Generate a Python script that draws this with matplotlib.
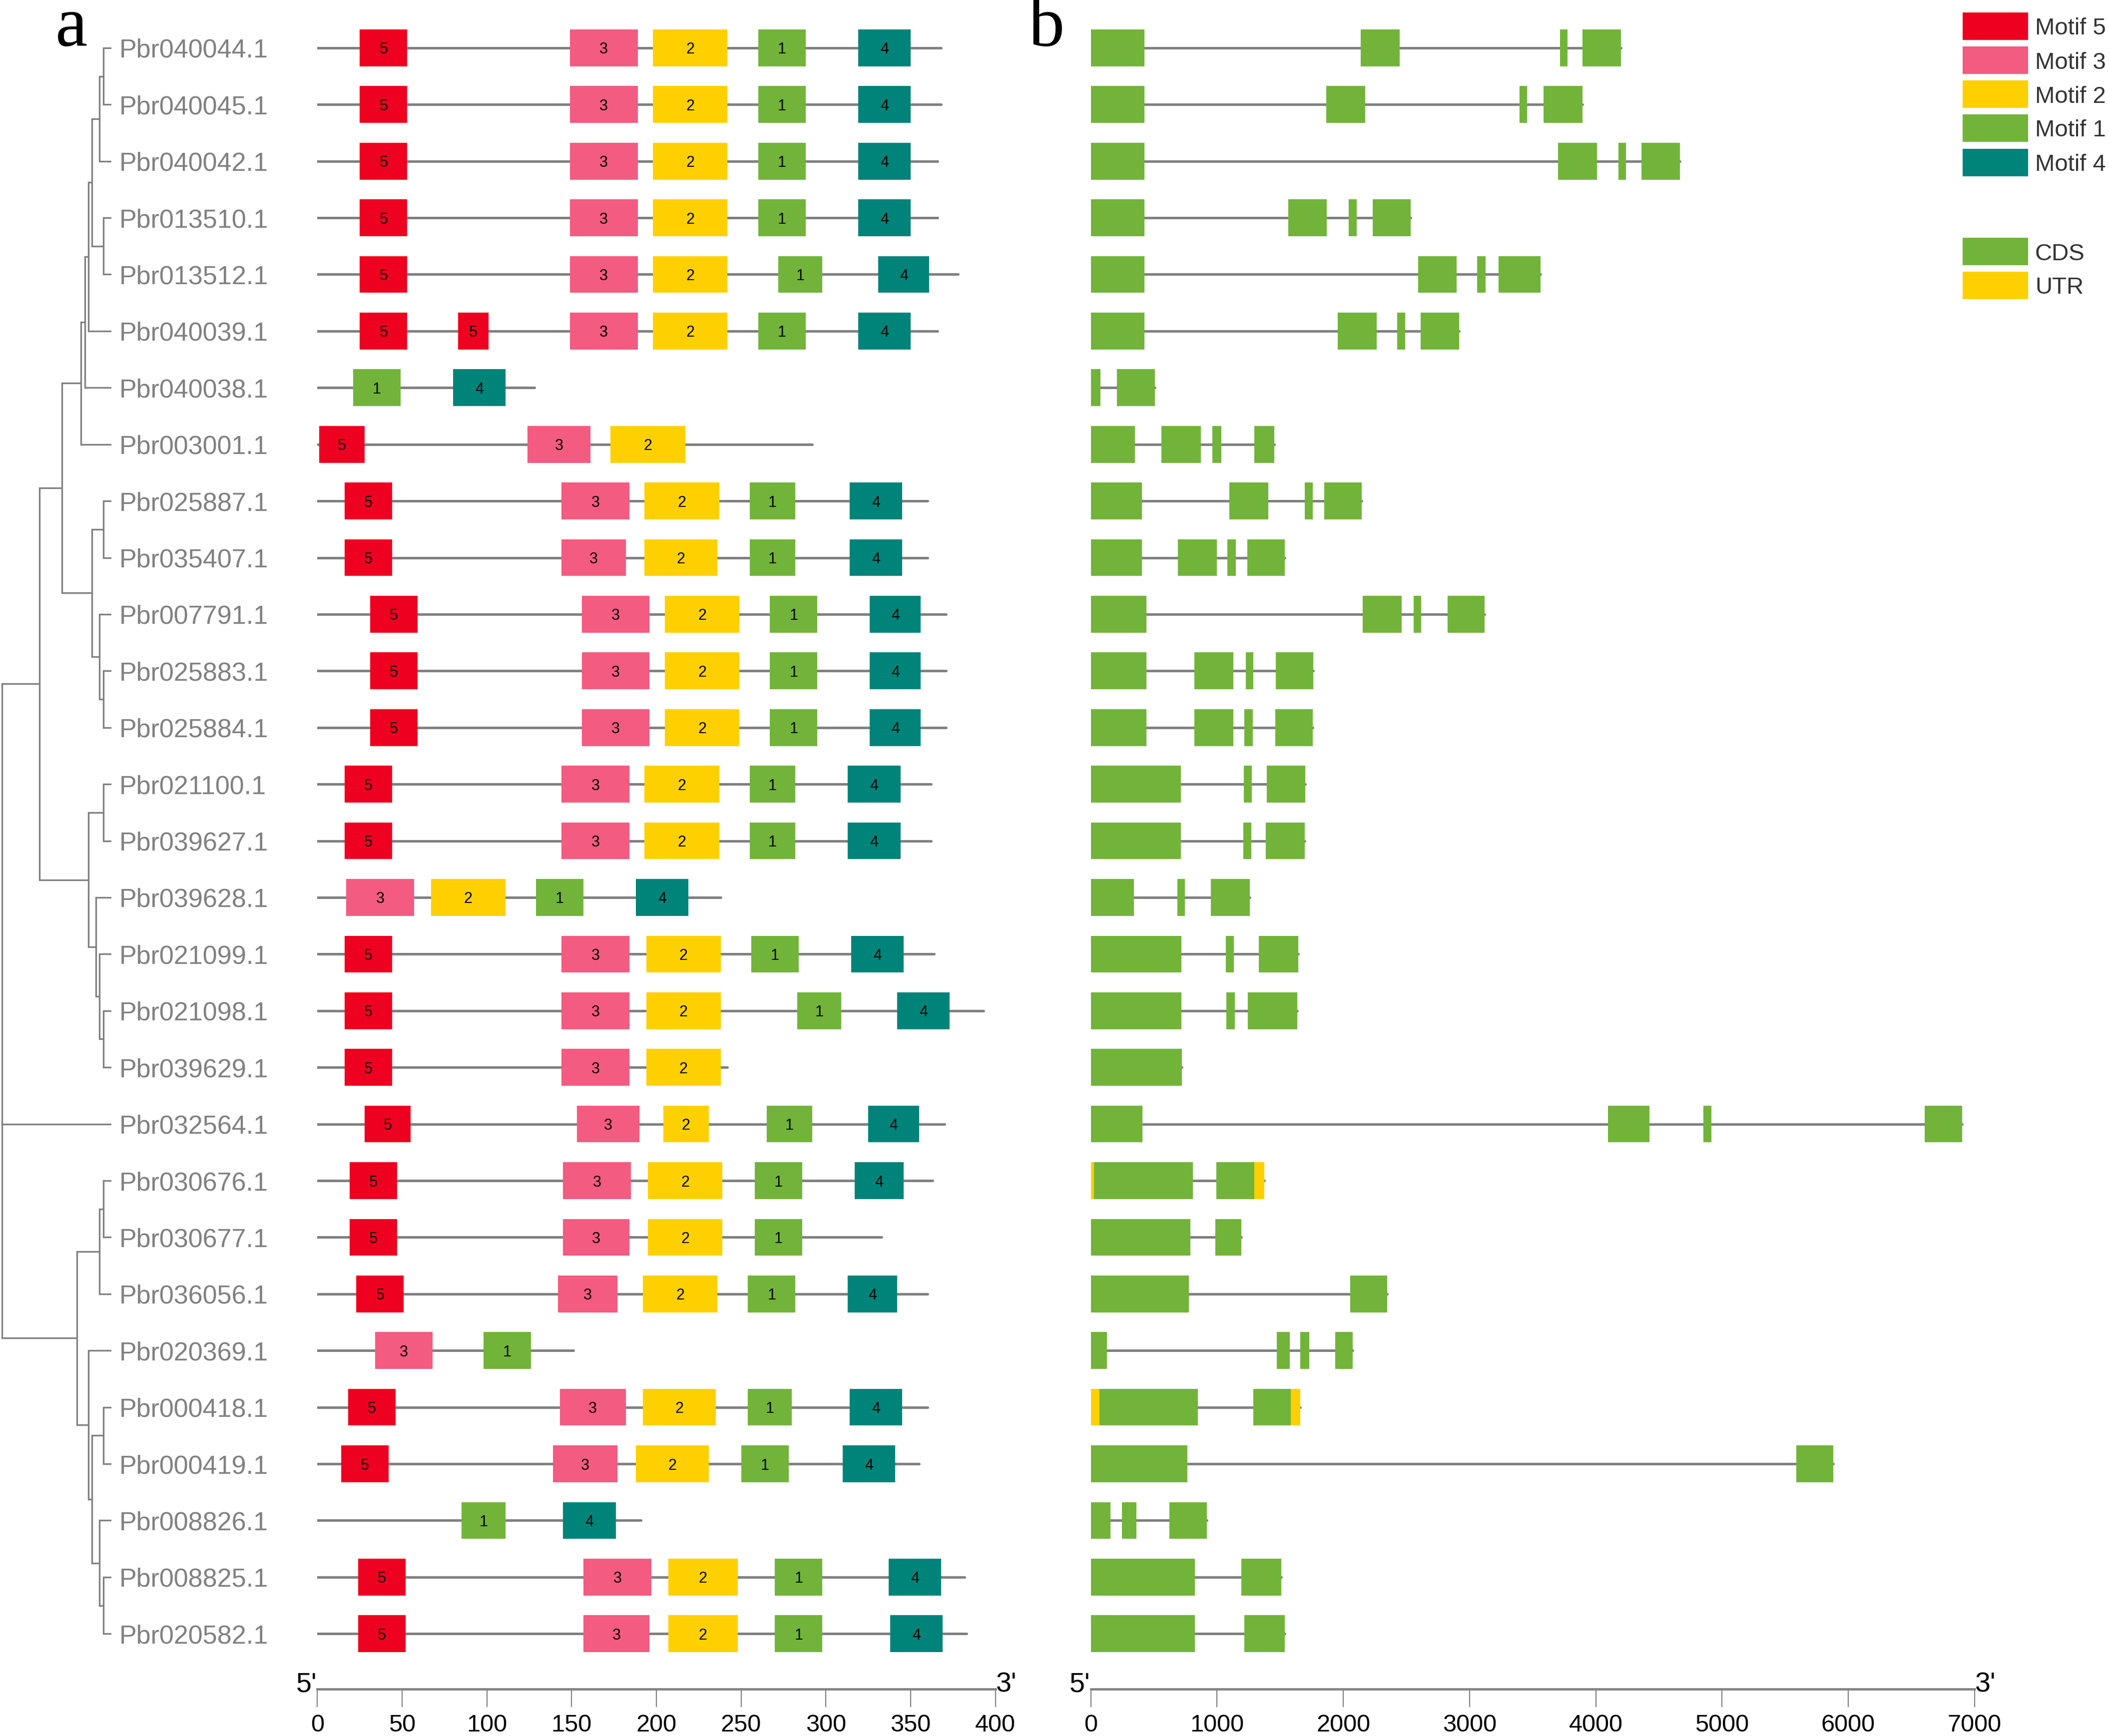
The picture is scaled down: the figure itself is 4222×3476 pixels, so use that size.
import matplotlib
matplotlib.use("Agg")
import matplotlib.pyplot as plt
from matplotlib.patches import Rectangle

# ---- data ----
gene_names = ["Pbr040044.1", "Pbr040045.1", "Pbr040042.1", "Pbr013510.1", "Pbr013512.1",
              "Pbr040039.1", "Pbr040038.1", "Pbr003001.1", "Pbr025887.1", "Pbr035407.1",
              "Pbr007791.1", "Pbr025883.1", "Pbr025884.1", "Pbr021100.1", "Pbr039627.1",
              "Pbr039628.1", "Pbr021099.1", "Pbr021098.1", "Pbr039629.1", "Pbr032564.1",
              "Pbr030676.1", "Pbr030677.1", "Pbr036056.1", "Pbr020369.1", "Pbr000418.1",
              "Pbr000419.1", "Pbr008826.1", "Pbr008825.1", "Pbr020582.1"]

protein_len = [368, 368, 366, 366, 378, 366, 128, 292, 360, 360, 371, 371, 371, 362, 362,
               238, 364, 393, 242, 370, 363, 333, 360, 151, 360, 355, 191, 382, 383]

# (motif, start, end) per protein
motif_hits = [
    [(5, 25, 53), (3, 149, 189), (2, 198, 242), (1, 260, 288), (4, 319, 350)],
    [(5, 25, 53), (3, 149, 189), (2, 198, 242), (1, 260, 288), (4, 319, 350)],
    [(5, 25, 53), (3, 149, 189), (2, 198, 242), (1, 260, 288), (4, 319, 350)],
    [(5, 25, 53), (3, 149, 189), (2, 198, 242), (1, 260, 288), (4, 319, 350)],
    [(5, 25, 53), (3, 149, 189), (2, 198, 242), (1, 272, 298), (4, 331, 361)],
    [(5, 25, 53), (5, 83, 101), (3, 149, 189), (2, 198, 242), (1, 260, 288), (4, 319, 350)],
    [(1, 21, 49), (4, 80, 111)],
    [(5, 1, 28), (3, 124, 161), (2, 173, 217)],
    [(5, 16, 44), (3, 144, 184), (2, 193, 237), (1, 255, 282), (4, 314, 345)],
    [(5, 16, 44), (3, 144, 182), (2, 193, 236), (1, 255, 282), (4, 314, 345)],
    [(5, 31, 59), (3, 156, 196), (2, 205, 249), (1, 267, 295), (4, 326, 356)],
    [(5, 31, 59), (3, 156, 196), (2, 205, 249), (1, 267, 295), (4, 326, 356)],
    [(5, 31, 59), (3, 156, 196), (2, 205, 249), (1, 267, 295), (4, 326, 356)],
    [(5, 16, 44), (3, 144, 184), (2, 193, 237), (1, 255, 282), (4, 313, 344)],
    [(5, 16, 44), (3, 144, 184), (2, 193, 237), (1, 255, 282), (4, 313, 344)],
    [(3, 17, 57), (2, 67, 111), (1, 129, 157), (4, 188, 219)],
    [(5, 16, 44), (3, 144, 184), (2, 194, 238), (1, 256, 284), (4, 315, 346)],
    [(5, 16, 44), (3, 144, 184), (2, 194, 238), (1, 283, 309), (4, 342, 373)],
    [(5, 16, 44), (3, 144, 184), (2, 194, 238)],
    [(5, 28, 55), (3, 153, 190), (2, 204, 231), (1, 265, 292), (4, 325, 355)],
    [(5, 19, 47), (3, 145, 185), (2, 195, 239), (1, 258, 286), (4, 317, 346)],
    [(5, 19, 47), (3, 145, 184), (2, 195, 239), (1, 258, 286)],
    [(5, 23, 51), (3, 142, 177), (2, 192, 236), (1, 254, 282), (4, 313, 342)],
    [(3, 34, 68), (1, 98, 126)],
    [(5, 18, 46), (3, 143, 182), (2, 192, 235), (1, 254, 280), (4, 314, 345)],
    [(5, 14, 42), (3, 139, 177), (2, 188, 231), (1, 250, 278), (4, 310, 341)],
    [(1, 85, 111), (4, 145, 176)],
    [(5, 24, 52), (3, 157, 197), (2, 207, 248), (1, 270, 298), (4, 337, 368)],
    [(5, 24, 52), (3, 157, 196), (2, 207, 248), (1, 270, 298), (4, 338, 369)],
]

cds_parts = [
    [(0, 423), (2136, 2446), (3715, 3775), (3896, 4201)],
    [(0, 423), (1864, 2173), (3397, 3457), (3587, 3896)],
    [(0, 423), (3702, 4011), (4178, 4238), (4363, 4668)],
    [(0, 423), (1563, 1868), (2044, 2108), (2233, 2534)],
    [(0, 423), (2594, 2899), (3060, 3129), (3231, 3563)],
    [(0, 423), (1956, 2266), (2427, 2492), (2612, 2917)],
    [(0, 76), (206, 506)],
    [(0, 349), (561, 871), (963, 1032), (1296, 1453)],
    [(0, 404), (1097, 1406), (1693, 1758), (1850, 2146)],
    [(0, 404), (691, 1000), (1083, 1148), (1240, 1536)],
    [(0, 441), (2154, 2464), (2556, 2617), (2825, 3120)],
    [(0, 441), (820, 1129), (1226, 1286), (1466, 1762)],
    [(0, 441), (820, 1129), (1217, 1282), (1462, 1758)],
    [(0, 714), (1212, 1277), (1393, 1697)],
    [(0, 714), (1208, 1273), (1388, 1693)],
    [(0, 340), (686, 746), (949, 1259)],
    [(0, 718), (1069, 1134), (1332, 1642)],
    [(0, 718), (1074, 1139), (1245, 1637)],
    [(0, 723)],
    [(0, 409), (4095, 4427), (4852, 4917), (6607, 6903)],
    [(23, 810), (995, 1296)],
    [(0, 788), (986, 1194)],
    [(0, 778), (2053, 2349)],
    [(0, 127), (1473, 1575), (1659, 1730), (1937, 2076)],
    [(69, 847), (1286, 1582)],
    [(0, 764), (5587, 5883)],
    [(0, 155), (247, 363), (621, 918)],
    [(0, 824), (1194, 1508)],
    [(0, 824), (1217, 1536)],
]

utr_parts = {20: [(0, 23), (1296, 1374)], 24: [(0, 69), (1582, 1660)]}

# tree: (node depth, [children]); ints are rows in gene_names
tip_depth = 83
tree = (1.5, [
    (29.5, [
        (46, [
            (60, [
                (63.2, [
                    (65.7, [
                        (68.5, [(74, [(77, [0, 1]), 2]), (77, [3, 4])]),
                        5]),
                    6]),
                7]),
            (68.5, [(77, [8, 9]), (74, [10, (77, [11, 12])])])]),
        (65.7, [(77, [13, 14]), (71.3, [15, (74, [16, (77, [17, 18])])])])]),
    19,
    (57.2, [
        (74, [(77, [20, 21]), 22]),
        (65.7, [23, (68.5, [(77, [24, 25]), (74, [26, (77, [27, 28])])])])])])

motif_order = [5, 3, 2, 1, 4]
motif_colors = {5: "#EE0020", 3: "#F45B80", 2: "#FFD000", 1: "#72B43A", 4: "#00847A"}
cds_color = "#72B43A"
utr_color = "#FFD000"
gray = "#808080"

plt.rcParams['font.family'] = ['Liberation Sans', 'DejaVu Sans']

W, H = 1568.0, 1291.0      # layout units (reference at reduced scale)
PT = 72.0 / 100 * 4222 / W  # points per layout unit

fig = plt.figure(figsize=(42.22, 34.76), dpi=100)

row_top, row_step = 35.6, 42.12
n = len(gene_names)
y0 = row_top - row_step / 2
y1 = row_top + (n - 0.5) * row_step
ax_h = (y1 - y0) / H
ax_b = 1 - y1 / H


def make_axes(x_left, x_right):
    return fig.add_axes([x_left / W, ax_b, (x_right - x_left) / W, ax_h])


# ---- tree ----
ax_t = make_axes(0, tip_depth)
ax_t.set_xlim(0, tip_depth)
ax_t.set_ylim(n - 0.5, -0.5)
ax_t.axis("off")
lw_tree = 3.3 * 0.72


def draw_node(node, parent_x):
    if isinstance(node, int):
        ax_t.plot([parent_x, tip_depth], [node, node], color=gray, lw=lw_tree,
                  solid_capstyle="butt")
        ax_t.text(tip_depth + 5.5, node, gene_names[node], color=gray,
                  fontsize=37.5, va="center_baseline", ha="left", clip_on=False)
        return node
    depth, kids = node
    ys = [draw_node(k, depth) for k in kids]
    y = sum(ys) / len(ys)
    ax_t.plot([depth, depth], [min(ys), max(ys)], color=gray, lw=lw_tree,
              solid_capstyle="projecting")
    if parent_x is not None:
        ax_t.plot([parent_x, depth], [y, y], color=gray, lw=lw_tree,
                  solid_capstyle="butt")
    return y


draw_node(tree, None)


def style_scale(ax, ticks):
    for s in ["top", "left", "right"]:
        ax.spines[s].set_visible(False)
    ax.spines["bottom"].set_position(("outward", 20.2 * PT))
    ax.spines["bottom"].set_color(gray)
    ax.spines["bottom"].set_linewidth(1.7 * PT)
    ax.set_xticks(ticks)
    ax.set_yticks([])
    ax.tick_params(axis="x", direction="out", length=13.5 * PT, width=0.8 * PT,
                   color=gray, labelsize=35, pad=4.8 * PT, labelcolor="black")
    ax.set_ylim(n - 0.5, -0.5)
    ax.patch.set_alpha(0)
    xl = ax.get_xlim()
    ax.annotate("5'", xy=(xl[0], 0), xycoords=("data", "axes fraction"),
                xytext=(-1, -16.8 * PT), textcoords="offset points",
                ha="right", va="center", fontsize=40, annotation_clip=False)
    ax.annotate("3'", xy=(xl[1], 0), xycoords=("data", "axes fraction"),
                xytext=(1, -16.8 * PT), textcoords="offset points",
                ha="left", va="center", fontsize=40, annotation_clip=False)


box_h = 0.65
lw_line = 5 * 0.72

# ---- panel a: motifs ----
ax_a = make_axes(236, 740)
ax_a.set_xlim(0, 400)
for i in range(n):
    ax_a.plot([0, protein_len[i]], [i, i], color=gray, lw=lw_line,
              solid_capstyle="round", zorder=1)
    for m, s, e in motif_hits[i]:
        ax_a.barh(i, e - s, left=s, height=box_h, color=motif_colors[m],
                  edgecolor="none", zorder=2)
        ax_a.text((s + e) / 2, i, str(m), fontsize=22, ha="center",
                  va="center_baseline", color="black", zorder=3)
style_scale(ax_a, list(range(0, 401, 50)))

# ---- panel b: gene structure ----
ax_g = make_axes(811, 1468)
ax_g.set_xlim(0, 7000)
for i in range(n):
    parts = cds_parts[i] + utr_parts.get(i, [])
    end = max(e for s, e in parts)
    ax_g.plot([0, end], [i, i], color=gray, lw=lw_line,
              solid_capstyle="round", zorder=1)
    for s, e in cds_parts[i]:
        ax_g.barh(i, e - s, left=s, height=box_h, color=cds_color,
                  edgecolor="none", zorder=2)
    for s, e in utr_parts.get(i, []):
        ax_g.barh(i, e - s, left=s, height=box_h, color=utr_color,
                  edgecolor="none", zorder=2)
style_scale(ax_g, list(range(0, 7001, 1000)))

# ---- panel letters ----
fig.text(53 / W, 1 - 34 / H, "a", fontsize=104, ha="center", va="baseline",
         family="Liberation Serif")
fig.text(778 / W, 1 - 34 / H, "b", fontsize=104, ha="center", va="baseline",
         family="Liberation Serif")

# ---- legend ----
legend_items = [("Motif %d" % m, motif_colors[m]) for m in motif_order]
legend_items += [("CDS", cds_color), ("UTR", utr_color)]
legend_tops = [9.2, 34.6, 59.8, 85.0, 110.5, 176.9, 202.0]
sq_w, sq_h = 49.0, 20.5
for (lab, col), top in zip(legend_items, legend_tops):
    fig.add_artist(Rectangle((1459 / W, 1 - (top + sq_h) / H), sq_w / W, sq_h / H,
                             transform=fig.transFigure, facecolor=col,
                             edgecolor="none"))
    fig.text(1513 / W, 1 - (top + sq_h / 2) / H, lab, fontsize=34,
             color="#333333", ha="left", va="center_baseline")

fig.savefig("out.png", dpi=100)
